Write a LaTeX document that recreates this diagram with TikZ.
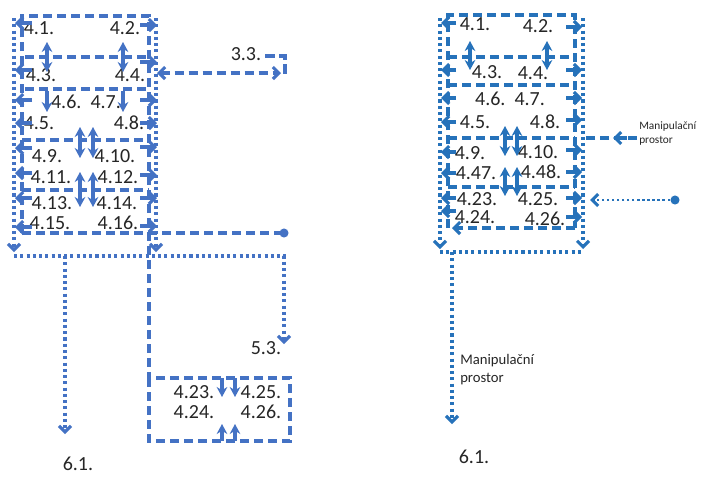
\documentclass[tikz,border=0pt]{standalone}
\usepackage{fontspec}
\setmainfont{Carlito}
\usetikzlibrary{arrows.meta}
\definecolor{lblue}{HTML}{4472C4}
\definecolor{rblue}{HTML}{2672BA}
\begin{document}
\begin{tikzpicture}[x=0.75pt,y=-0.75pt,
  dsh/.style={line width=2.7pt, dash pattern=on 7pt off 3.5pt},
  dtt/.style={line width=2.7pt, dash pattern=on 2.3pt off 2.4pt},
  barb/.style={-{Straight Barb[length=4.5pt,width=9pt,line width=2.3pt]}},
  barbs/.style={{Straight Barb[length=4.5pt,width=9pt,line width=2.3pt]}-{Straight Barb[length=4.5pt,width=9pt,line width=2.3pt]}},
  rowarr/.style={line width=2.3pt,-{Straight Barb[length=4.5pt,width=9pt]}},
  varr/.style={line width=2.3pt,{Stealth[length=7.5pt,width=8pt]}-{Stealth[length=7.5pt,width=8pt]}},
  vdown/.style={line width=2.3pt,-{Stealth[length=7.5pt,width=8pt]}},
  lbl/.style={font=\fontsize{15}{17}\selectfont, inner sep=0pt, text=black!85},
  smallA/.style={font=\fontsize{8.5}{10.5}\selectfont, align=left, inner sep=0pt, anchor=west, text=black!85},
  smallB/.style={font=\fontsize{11}{13.5}\selectfont, align=left, inner sep=0pt, anchor=west, text=black!85}
]
\useasboundingbox (0,0) rectangle (706,476);
\fill[white] (0,0) rectangle (706,476);

% ================= LEFT DIAGRAM =================
\begin{scope}[color=lblue]
% texts
\node[lbl] (a41) at (39,28) {4.1.};
\node[lbl] (a42) at (125,28) {4.2.};
\node[lbl] (a43) at (41,75) {4.3.};
\node[lbl] (a44) at (130,75) {4.4.};
\node[lbl] (a467) at (86,102) {4.6.\ \ 4.7.};
\node[lbl] (a45) at (39,123) {4.5.};
\node[lbl] (a48) at (129,123) {4.8.};
\node[lbl] (a49) at (47,156) {4.9.};
\node[lbl] (a410) at (115,156) {4.10.};
\node[lbl] (a411) at (51,177) {4.11.};
\node[lbl] (a412) at (118,177) {4.12.};
\node[lbl] (a413) at (52,203) {4.13.};
\node[lbl] (a414) at (117,203) {4.14.};
\node[lbl] (a415) at (50,223) {4.15.};
\node[lbl] (a416) at (118,223) {4.16.};
\node[lbl] (a33) at (246,54) {3.3.};
\node[lbl] (a53) at (266,348) {5.3.};
\node[lbl] (a61) at (78,464) {6.1.};
\node[lbl] (a423) at (194,392) {4.23.};
\node[lbl] (a425) at (261,392) {4.25.};
\node[lbl] (a424) at (194,412) {4.24.};
\node[lbl] (a426) at (261,412) {4.26.};

% outer dotted
\draw[dtt,barb] (14,18) -- (14,252);
\draw[dtt,barb] (156,18) -- (156,252);
\draw[dtt,barb] (14,256) -- (284,256) -- (284,344);
\draw[dtt,barb] (65,256) -- (65,434);

% dashed frame
\draw[dsh] (22,233) -- (22,16) -- (149,16) -- (149,378);
\draw[dsh] (25,57) -- (149,57);
\draw[dsh] (25,89) -- (149,89);
\draw[dsh] (22,140) -- (149,140);
\draw[dsh] (22,190) -- (149,190);
\draw[dsh] (22,233) -- (282,233);
\coordinate (dotL) at (284,233);
\fill (dotL) circle (3.4pt);

% lower box
\draw[dsh] (149,378) rectangle (290,441);
\draw[vdown] (222,378) -- (222,397);
\draw[vdown] (235,378) -- (235,397);
\draw[vdown] (222,441) -- (222,424);
\draw[vdown] (235,441) -- (235,424);

% 3.3 connector
\draw[dsh] (a33.east) ++(4,2) -- (285,56) -- (285,75);
\draw[dsh,barbs] (157,73) -- (281,73);

% row arrows left
\foreach \y in {23,70,100,123,148,173,198,227}
  \draw[rowarr] (32,\y) -- (15,\y);
% row arrows right
\foreach \y in {25,62,100,123,147,175,198,226}
  \draw[rowarr] (140,\y) -- (157,\y);

% vertical arrows
\draw[varr] (47,42) -- (47,72);
\draw[varr] (123,42) -- (123,72);
\draw[vdown] (47,91) -- (47,112);
\draw[vdown] (123,91) -- (123,112);
\draw[varr] (80,127) -- (80,158);
\draw[varr] (93,127) -- (93,158);
\draw[varr] (80,172) -- (80,207);
\draw[varr] (93,172) -- (93,207);
\end{scope}

% ================= RIGHT DIAGRAM =================
\begin{scope}[color=rblue]
\node[lbl] (b41) at (475,24) {4.1.};
\node[lbl] (b42) at (538,26) {4.2.};
\node[lbl] (b43) at (487,72) {4.3.};
\node[lbl] (b44) at (533,73) {4.4.};
\node[lbl] (b467) at (510,99) {4.6.\ \ 4.7.};
\node[lbl] (b45) at (475,122) {4.5.};
\node[lbl] (b48) at (545,122) {4.8.};
\node[lbl] (b49) at (470,153) {4.9.};
\node[lbl] (b410) at (538,152) {4.10.};
\node[lbl] (b447) at (476,173) {4.47.};
\node[lbl] (b448) at (541,172) {4.48.};
\node[lbl] (b423) at (477,199) {4.23.};
\node[lbl] (b425) at (538,199) {4.25.};
\node[lbl] (b424) at (475,217) {4.24.};
\node[lbl] (b426) at (545,219) {4.26.};
\node[smallA] (mp1) at (639,133) {Manipulační\\prostor};
\node[smallB] (mp2) at (460,370) {Manipulační\\prostor};
\node[lbl] (b61) at (474,457) {6.1.};

% outer dotted
\draw[dtt,barb] (440,18) -- (440,249);
\draw[dtt,barb] (583,18) -- (583,249);
\draw[dtt] (440,252) -- (583,252);
\draw[dtt,barb] (452,252) -- (452,424);

% dashed frame
\draw[dsh] (448,228) -- (448,15) -- (575,15) -- (575,228);
\draw[dsh] (448,57) -- (575,57);
\draw[dsh] (448,85) -- (573,85);
\draw[dsh] (448,138) -- (575,138);
\draw[dsh] (448,187) -- (575,187);
\draw[dsh,barb] (575,228) -- (452,228);

% Manipulacni connector (dashed with mid arrow)
\coordinate (mpend) at (637,138);
\draw[dsh] (mpend) -- (583,138);
\draw[line width=2.3pt,-{Straight Barb[length=4.5pt,width=9pt]}] (627,138) -- (613,138);
% dotted connector with dot
\coordinate (dotR) at (675,200);
\fill (dotR) circle (3.4pt);
\draw[line width=2pt, dash pattern=on 1.8pt off 2pt,barb] (dotR) -- (590,200);

% row arrows left
\foreach \y in {23,70,98,122,152,173,198,211}
  \draw[rowarr] (456,\y) -- (441,\y);
% row arrows right
\foreach \y in {27,70,98,120,150,172,198,217}
  \draw[rowarr] (566,\y) -- (582,\y);

% vertical arrows
\draw[varr] (470,41) -- (470,70);
\draw[varr] (547,41) -- (547,70);
\draw[varr] (505,126) -- (505,156);
\draw[varr] (517,126) -- (517,156);
\draw[varr] (505,167) -- (505,196);
\draw[varr] (517,167) -- (517,196);
\end{scope}
\end{tikzpicture}
\end{document}
